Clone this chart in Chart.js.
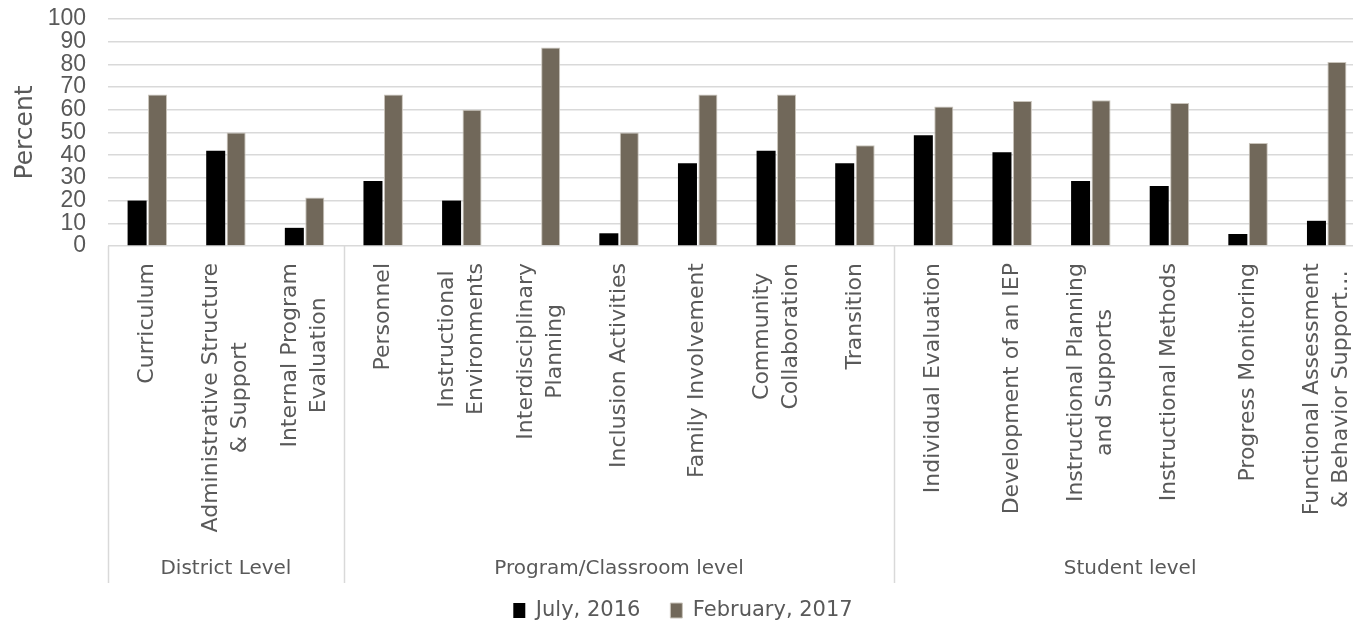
<!DOCTYPE html>
<html>
<head>
<meta charset="utf-8">
<script src="https://cdn.jsdelivr.net/npm/chart.js@4.4.1/dist/chart.umd.min.js"></script>
<style>
  html, body { margin: 0; padding: 0; background: #fff; overflow: hidden; }
  #wrap { position: relative; width: 1366px; height: 631px; }
</style>
</head>
<body>
<div id="wrap"><canvas id="chart"></canvas></div>
<script>
// categories, one array of lines per label
const categories = [
  ['Curriculum'],
  ['Administrative Structure', '& Support'],
  ['Internal Program', 'Evaluation'],
  ['Personnel'],
  ['Instructional', 'Environments'],
  ['Interdisciplinary', 'Planning'],
  ['Inclusion Activities'],
  ['Family Involvement'],
  ['Community', 'Collaboration'],
  ['Transition'],
  ['Individual Evaluation'],
  ['Development of an IEP'],
  ['Instructional Planning', 'and Supports'],
  ['Instructional Methods'],
  ['Progress Monitoring'],
  ['Functional Assessment', '& Behavior Support…']
];
const groupNames = ['District Level', 'Program/Classroom level', 'Student level'];
const groupSizes = [3, 7, 6];

const july2016 = [20, 42, 8, 28.6, 20, 0, 5.6, 36.4, 42, 36.4, 48.8, 41.3, 28.6, 26.4, 5.3, 11.1];
const feb2017 = [66.7, 50, 21.4, 66.7, 60, 87.5, 50, 66.7, 66.7, 44.4, 61.5, 63.9, 64.2, 63.0, 45.4, 81.1];

const yMin = 0, yMax = 100, yStep = 10;

const TEXT = '#595959';
const LINE = '#d9d9d9';

// draws the two-level category axis below the plot
const levelAxis = {
  id: 'levelAxis',
  afterDraw(chart) {
    const ctx = chart.ctx;
    const x = chart.scales.x;
    const area = chart.chartArea;
    const bottom = area.bottom + 337;
    const step = x.getPixelForValue(1) - x.getPixelForValue(0);

    ctx.save();
    ctx.strokeStyle = LINE;
    ctx.lineWidth = 1.5;

    // group separators
    let idx = 0;
    const edges = [x.getPixelForValue(0) - step / 2];
    groupSizes.forEach(n => { idx += n; edges.push(x.getPixelForValue(idx - 1) + step / 2); });
    edges.forEach(ex => {
      ctx.beginPath();
      ctx.moveTo(Math.round(ex) + 0.5, area.bottom);
      ctx.lineTo(Math.round(ex) + 0.5, bottom);
      ctx.stroke();
    });

    // rotated category labels
    ctx.fillStyle = TEXT;
    ctx.font = '22px "DejaVu Sans"';
    ctx.textAlign = 'center';
    ctx.textBaseline = 'middle';
    const lineH = 29;
    const top = area.bottom + 17;
    categories.forEach((lines, i) => {
      const cx = x.getPixelForValue(i);
      const w = Math.max(...lines.map(l => ctx.measureText(l).width));
      ctx.save();
      ctx.translate(cx, top);
      ctx.rotate(-Math.PI / 2);
      lines.forEach((l, j) => {
        ctx.fillText(l, -w / 2, (j - (lines.length - 1) / 2) * lineH);
      });
      ctx.restore();
    });

    // group labels
    ctx.font = '20px "DejaVu Sans"';
    groupNames.forEach((g, k) => {
      ctx.fillText(g, (edges[k] + edges[k + 1]) / 2, area.bottom + 323);
    });
    ctx.restore();
  }
};

new Chart(document.getElementById('chart'), {
  type: 'bar',
  data: {
    labels: categories.map(c => c.join(' ')),
    datasets: [
      {
        label: 'July, 2016',
        data: july2016,
        backgroundColor: '#000000',
        borderWidth: 0,
        barPercentage: 0.93,
        categoryPercentage: 0.52
      },
      {
        label: 'February, 2017',
        data: feb2017,
        backgroundColor: '#71685a',
        borderColor: '#c9c4bb',
        borderWidth: 1,
        barPercentage: 0.93,
        categoryPercentage: 0.52
      }
    ]
  },
  options: {
    responsive: true,
    maintainAspectRatio: false,
    animation: false,
    layout: { padding: { top: 19, left: 0, right: 0, bottom: 0 } },
    scales: {
      x: {
        grid: { display: false },
        border: { display: false },
        ticks: { display: false },
        afterFit: s => { s.height = 324; }
      },
      y: {
        min: yMin,
        max: yMax,
        ticks: {
          stepSize: yStep,
          autoSkip: false,
          color: TEXT,
          padding: 22,
          font: { family: '"Liberation Sans"', size: 23, lineHeight: 1 }
        },
        grid: { color: LINE, lineWidth: 1.5, drawTicks: false },
        border: { display: false },
        title: {
          display: true,
          text: 'Percent',
          color: TEXT,
          font: { family: '"DejaVu Sans"', size: 25 },
          padding: { top: 10, bottom: 0 }
        },
        afterFit: s => {
          s.width = 108;
          s.paddingTop = 0;
          s.paddingBottom = 0;
        }
      }
    },
    plugins: {
      legend: {
        position: 'bottom',
        labels: {
          color: TEXT,
          boxWidth: 12,
          boxHeight: 15,
          padding: 30,
          font: { family: '"DejaVu Sans"', size: 21 }
        }
      },
      tooltip: { enabled: false }
    }
  },
  plugins: [levelAxis]
});
</script>
</body>
</html>
